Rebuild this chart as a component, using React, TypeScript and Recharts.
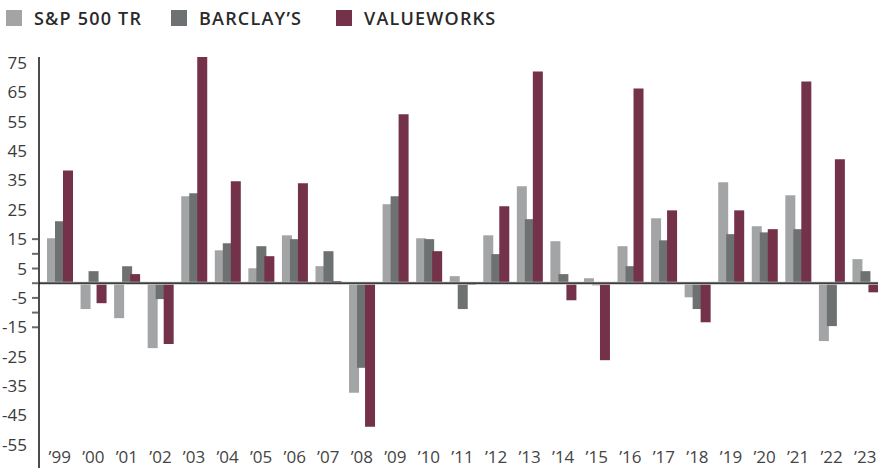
import { BarChart, Bar, XAxis, YAxis, ReferenceLine } from "recharts";

const YEARS = ["’99", "’00", "’01", "’02", "’03", "’04", "’05", "’06", "’07", "’08", "’09", "’10", "’11", "’12", "’13", "’14", "’15", "’16", "’17", "’18", "’19", "’20", "’21", "’22", "’23"];
const SP500 = [15.3, -8.8, -11.9, -22.1, 29.6, 11.2, 5.1, 16.3, 5.8, -37.3, 26.9, 15.3, 2.4, 16.3, 33.0, 14.3, 1.7, 12.6, 22.1, -4.8, 34.4, 19.4, 29.9, -19.7, 8.2];
const BARCLAYS = [21.1, 4.1, 5.8, -5.4, 30.6, 13.6, 12.6, 15.0, 10.9, -28.8, 29.6, 15.0, -8.8, 9.9, 21.8, 3.1, -0.7, 5.8, 14.6, -8.8, 16.7, 17.3, 18.4, -14.6, 4.1];
const VALUEWORKS = [38.4, -6.8, 3.1, -20.7, 77, 34.7, 9.2, 34.0, 0.7, -48.9, 57.5, 10.9, -0.6, 26.2, 72.1, -5.8, -26.2, 66.3, 24.8, -13.3, 24.8, 18.4, 68.7, 42.2, -3.1];
const Y_LABELS = [75, 65, 55, 45, 35, 25, 15, 5, -5, -15, -25, -35, -45, -55];
const Y_MINOR = [10, 0, -10];

const COLORS = { sp: "#A3A4A5", barclays: "#6E7172", vw: "#74314A" };
const FONT = "'Open Sans', sans-serif";
const AXIS_X = 39;

const data = YEARS.map((name, i) => ({
  name,
  sp: SP500[i],
  barclays: BARCLAYS[i],
  vw: VALUEWORKS[i],
}));

const legendItems = [
  { label: "S&P 500 TR", color: COLORS.sp },
  { label: "BARCLAY’S", color: COLORS.barclays },
  { label: "VALUEWORKS", color: COLORS.vw },
];

function YTick(props: any) {
  const { y, payload } = props;
  const v = payload.value;
  return (
    <g>
      {Math.abs(v) <= 15 && (
        <line x1={AXIS_X - 7} x2={AXIS_X - 1} y1={y} y2={y} stroke="#6a6a6a" strokeWidth={2} />
      )}
      {Y_LABELS.includes(v) && (
        <text x={27} y={y} dy={6} textAnchor="end" fill="#3a3a3a" fontSize={17} fontFamily={FONT}>
          {v}
        </text>
      )}
    </g>
  );
}

function XTick(props: any) {
  const { x, payload } = props;
  return (
    <text x={x} y={463} textAnchor="middle" fill="#444" fontSize={17} fontFamily={FONT}>
      {payload.value}
    </text>
  );
}

export default function App() {
  return (
    <div
      style={{
        position: "absolute",
        left: 0,
        top: 0,
        width: 878,
        height: 468,
        overflow: "hidden",
        background: "#fff",
        fontFamily: FONT,
      }}
    >
      <div style={{ position: "absolute", top: 10, left: 6, display: "flex", alignItems: "center" }}>
        {legendItems.map((item) => (
          <div key={item.label} style={{ display: "flex", alignItems: "center", width: 165 }}>
            <div style={{ width: 16, height: 16, background: item.color, marginRight: 12, flexShrink: 0 }} />
            <span
              style={{
                fontSize: 18,
                fontWeight: 600,
                color: "#2a2a2a",
                letterSpacing: 1.2,
                lineHeight: "16px",
                whiteSpace: "nowrap",
              }}
            >
              {item.label}
            </span>
          </div>
        ))}
      </div>
      <BarChart
        width={882}
        height={488}
        data={data}
        margin={{ top: 57, right: 0, bottom: 0, left: 0 }}
        barSize={10}
        barGap={-2}
      >
        <XAxis
          dataKey="name"
          axisLine={false}
          tickLine={false}
          height={20}
          interval={0}
          padding={{ left: 4, right: 0 }}
          tick={<XTick />}
        />
        <YAxis
          width={AXIS_X}
          domain={[-62.9, 77]}
          allowDataOverflow
          ticks={[...Y_LABELS, ...Y_MINOR].sort((a, b) => b - a)}
          interval={0}
          tickLine={false}
          axisLine={{ stroke: "#111", strokeWidth: 1.5 }}
          tick={<YTick />}
        />
        <Bar dataKey="sp" name="S&P 500 TR" fill={COLORS.sp} isAnimationActive={false} />
        <Bar dataKey="barclays" name="BARCLAY’S" fill={COLORS.barclays} isAnimationActive={false} />
        <Bar dataKey="vw" name="VALUEWORKS" fill={COLORS.vw} isAnimationActive={false} />
        <ReferenceLine y={0} stroke="#c4c4c4" strokeWidth={3} />
        <ReferenceLine y={0} stroke="#111" strokeWidth={1.3} />
      </BarChart>
    </div>
  );
}
